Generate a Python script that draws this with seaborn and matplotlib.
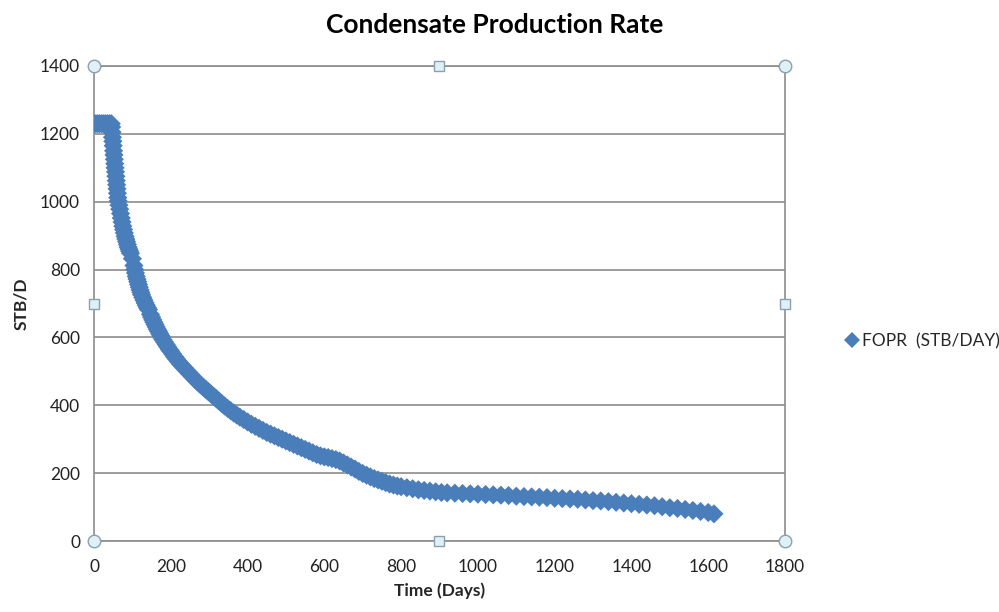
import matplotlib
matplotlib.use("Agg")
import matplotlib.pyplot as plt
import seaborn as sns
import pandas as pd

# ---- data ----
days = [0, 5, 10, 15, 20, 25, 30, 35, 40, 45,
        46, 47, 48, 49, 50, 51, 52, 53, 54, 55, 56, 57, 58, 59, 60, 61, 62, 63,
        65, 67, 69, 71, 73, 75, 77, 79, 81, 83, 85, 87, 89, 91, 93, 95,
        100, 104, 106, 108, 110, 112, 114, 116, 118, 120, 122, 124, 127, 130,
        133, 136, 139, 142, 147, 150, 153, 156, 159, 162, 165, 168, 171, 174,
        177, 180, 184, 188, 192, 196, 200, 205, 210, 215, 220, 225, 230, 235,
        240, 245, 250, 256, 262, 268, 274, 280, 286, 292, 298, 305, 312, 319,
        326, 333, 340, 348, 356, 364, 372, 380, 390, 400, 410, 420, 430, 440,
        450, 460, 470, 480, 490, 500, 510, 520, 530, 540, 550, 560, 570, 580,
        590, 600, 610, 620, 630, 640, 650, 660, 670, 680, 690, 700, 710, 720,
        730, 740, 750, 760, 770, 780, 790, 800, 815, 830, 845, 860, 875, 890,
        905, 920, 940, 960, 980, 1000, 1020, 1040, 1060, 1080, 1100, 1120,
        1140, 1160, 1180, 1200, 1220, 1240, 1260, 1280, 1300, 1320, 1340,
        1360, 1380, 1400, 1420, 1440, 1460, 1480, 1500, 1520, 1540, 1560,
        1580, 1600, 1615]
fopr = [1230, 1230, 1230, 1230, 1230, 1230, 1230, 1230, 1230, 1230,
        1220, 1205, 1190, 1178, 1165, 1150, 1138, 1125, 1112, 1100, 1088, 1075, 1062, 1050, 1038, 1025, 1012, 1002,
        990, 978, 965, 952, 940, 928, 918, 908, 898, 890, 882, 874, 866, 860, 854, 848,
        832, 812, 800, 790, 780, 772, 764, 756, 748, 740, 733, 726, 718, 710,
        702, 695, 688, 682, 668, 660, 652, 645, 638, 631, 624, 618, 611, 605,
        599, 593, 586, 579, 572, 565, 559, 551, 543, 536, 529, 522, 516, 510,
        504, 498, 492, 485, 478, 471, 464, 458, 452, 446, 440, 433, 426, 419,
        412, 405, 398, 391, 384, 377, 371, 365, 358, 351, 344, 338, 332, 326,
        320, 315, 310, 305, 300, 295, 290, 285, 280, 275, 270, 265, 260, 255,
        251, 248, 246, 243, 240, 236, 230, 224, 218, 212, 205, 199, 194, 189,
        184, 180, 176, 172, 168, 165, 162, 160, 157, 154, 151, 149, 147, 145,
        143, 142, 141, 140, 139, 138, 137, 136, 135, 134, 132, 131,
        130, 129, 128, 126, 125, 124, 123, 121, 119, 118, 116,
        114, 112, 110, 108, 106, 104, 101, 98, 96, 93, 90,
        87, 84, 80]
x_ticks = [0, 200, 400, 600, 800, 1000, 1200, 1400, 1600, 1800]
y_ticks = [0, 200, 400, 600, 800, 1000, 1200, 1400]
series_name = "FOPR  (STB/DAY)"

df = pd.DataFrame({"Time (Days)": days, "STB/D": fopr, "series": series_name})

sns.set_style("white")
plt.rcParams["font.family"] = ["Lato", "DejaVu Sans"]

BLUE = "#4a7ebb"
GRID = "#8c8c8c"

fig = plt.figure(figsize=(9.99, 6.12), dpi=100)
ax = fig.add_axes([94 / 999, 1 - 541 / 612, (785 - 94) / 999, (541 - 66) / 612])

sns.scatterplot(data=df, x="Time (Days)", y="STB/D", hue="series",
                palette=[BLUE], marker="D", s=95, linewidth=0, ax=ax,
                zorder=3, legend=True)

ax.set_xlim(0, 1800)
ax.set_ylim(0, 1400)
ax.set_xticks(x_ticks)
ax.set_yticks(y_ticks)
ax.tick_params(axis="both", labelsize=12.5, colors="#222222", length=4,
               width=1, direction="out")
ax.tick_params(axis="x", pad=9)
ax.tick_params(axis="y", pad=6)
ax.tick_params(axis="both", color=GRID)
ax.yaxis.grid(True, color=GRID, linewidth=1.2)
ax.xaxis.grid(False)
for sp in ax.spines.values():
    sp.set_color(GRID)
    sp.set_linewidth(1.2)
    sp.set_visible(True)

ax.set_xlabel("Time (Days)", fontsize=12.5, fontweight="bold", labelpad=5)
ax.set_ylabel("STB/D", fontsize=12.5, fontweight="bold", labelpad=8)
fig.text(495 / 999, 1 - 25 / 612, "Condensate Production Rate", ha="center",
         va="center", fontsize=19, fontweight="bold", color="#000000")

leg = ax.legend(loc="center left", bbox_to_anchor=(836 / 999, 1 - 341 / 612),
                bbox_transform=fig.transFigure, frameon=False, fontsize=12.5,
                handletextpad=0.1, borderaxespad=0, handlelength=1.0,
                markerscale=0.85)

# Excel selection handles on the plot area
handle_style = dict(markerfacecolor="#dff1f7", markeredgecolor="#8aa0b0",
                    markeredgewidth=1, clip_on=False, zorder=5,
                    transform=ax.transAxes, linestyle="none")
ax.plot([0, 1, 0, 1], [0, 0, 1, 1], marker="o", markersize=9, **handle_style)
ax.plot([0.5, 0.5, 0, 1], [0, 1, 0.5, 0.5], marker="s", markersize=7, **handle_style)

fig.savefig("out.png", dpi=100)
